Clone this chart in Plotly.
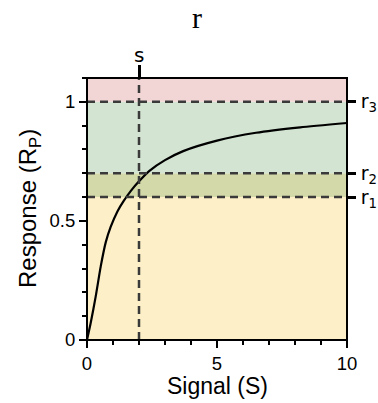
import plotly.graph_objects as go

# Response curve samples
signal = [0, 0.14, 0.33, 0.53, 0.72, 0.91, 1.17, 1.4, 1.68, 2.0, 2.4, 3.0, 3.7, 5.0, 6.5, 8.2, 10]
response = [0, 0.07, 0.18, 0.31, 0.41, 0.475, 0.54, 0.582, 0.625, 0.666, 0.71, 0.755, 0.793, 0.837, 0.87, 0.893, 0.911]

# Thresholds and shaded regions
r_levels = [0.6, 0.7, 1.0]
r_labels = ["r<sub>1</sub>", "r<sub>2</sub>", "r<sub>3</sub>"]
band_edges = [0, 0.6, 0.7, 1.0, 1.1]
band_colors = ["#fdf0c9", "#d4d9aa", "#d3e4d2", "#f2d6d6"]
s_value = 2
s_label = "s"

x_range = [0, 10]
y_range = [0, 1.1]

font = "Liberation Sans, Arial, sans-serif"
marker_font = "DejaVu Sans, sans-serif"
dash_style = dict(color="#3a3a3a", width=2.5, dash="8px,5px")

fig = go.Figure()

fig.add_trace(go.Scatter(
    x=signal, y=response, mode="lines",
    line=dict(color="black", width=2.2, shape="spline", smoothing=0.6),
    showlegend=False, hoverinfo="skip",
))
# invisible trace to activate the secondary (top/right) axes
fig.add_trace(go.Scatter(
    x=x_range, y=y_range, xaxis="x2", yaxis="y2", mode="markers",
    marker=dict(opacity=0), showlegend=False, hoverinfo="skip",
))

shapes = []
for lo, hi, col in zip(band_edges[:-1], band_edges[1:], band_colors):
    shapes.append(dict(type="rect", xref="x", yref="y", x0=x_range[0], x1=x_range[1],
                       y0=lo, y1=hi, fillcolor=col, line=dict(width=0), layer="below"))
for r in r_levels:
    shapes.append(dict(type="line", xref="x", yref="y", x0=x_range[0], x1=x_range[1],
                       y0=r, y1=r, line=dash_style, layer="above"))
shapes.append(dict(type="line", xref="x", yref="y", x0=s_value, x1=s_value,
                   y0=y_range[0], y1=y_range[1], line=dash_style, layer="above"))
# frame
shapes.append(dict(type="rect", xref="paper", yref="paper", x0=0, x1=1, y0=0, y1=1,
                   line=dict(color="black", width=2), layer="above"))

annotations = [
    # label of the top tick at s
    dict(text=s_label, x=s_value, xref="x", y=1, yref="paper", yanchor="bottom",
         yshift=9, showarrow=False, font=dict(family=marker_font, size=20)),
    # axis titles
    dict(text="Signal (S)", x=0.5, xref="paper", y=0, yref="paper", yanchor="middle",
         yshift=-46, showarrow=False, font=dict(size=23)),
    dict(text="Response (R<sub>P</sub>)", x=0, xref="paper", y=0.5, yref="paper",
         xanchor="center", xshift=-58, textangle=-90, showarrow=False, font=dict(size=24)),
]

fig.update_layout(
    width=378, height=403,
    margin=dict(l=87, r=31, t=78, b=63, autoexpand=False),
    paper_bgcolor="white", plot_bgcolor="white",
    font=dict(family=font, color="black"),
    shapes=shapes,
    annotations=annotations,
    title=dict(text="r", x=197 / 378, xref="container", xanchor="center",
               y=1 - 17 / 403, yref="container", yanchor="middle",
               font=dict(family="Liberation Serif, DejaVu Serif, serif", size=30)),
    xaxis=dict(range=x_range, tickvals=[0, 5, 10], ticktext=["0", "5", "10"],
               ticks="outside", ticklen=7, tickwidth=2, tickcolor="black",
               minor=dict(dtick=1, ticks="outside", ticklen=4, tickwidth=2, tickcolor="black"),
               showgrid=False, zeroline=False, showline=False, automargin=False,
               tickfont=dict(size=18.5)),
    yaxis=dict(range=y_range, tickvals=[0, 0.5, 1], ticktext=["0", "0.5", "1"],
               ticks="outside", ticklen=7, tickwidth=2, tickcolor="black",
               minor=dict(dtick=0.1, ticks="outside", ticklen=4, tickwidth=2, tickcolor="black"),
               showgrid=False, zeroline=False, showline=False, automargin=False,
               tickfont=dict(size=18.5)),
    xaxis2=dict(overlaying="x", side="top", range=x_range, tickvals=[s_value], ticktext=[""],
                ticks="outside", ticklen=12, tickwidth=2.5, tickcolor="black", automargin=False,
                showgrid=False, zeroline=False, showline=False),
    yaxis2=dict(overlaying="y", side="right", range=y_range, tickvals=r_levels, ticktext=r_labels,
                ticks="outside", ticklen=8, tickwidth=2.5, tickcolor="black", automargin=False,
                showgrid=False, zeroline=False, showline=False, ticklabelstandoff=1,
                tickfont=dict(family=marker_font, size=19)),
)

fig.write_html("out.html")
